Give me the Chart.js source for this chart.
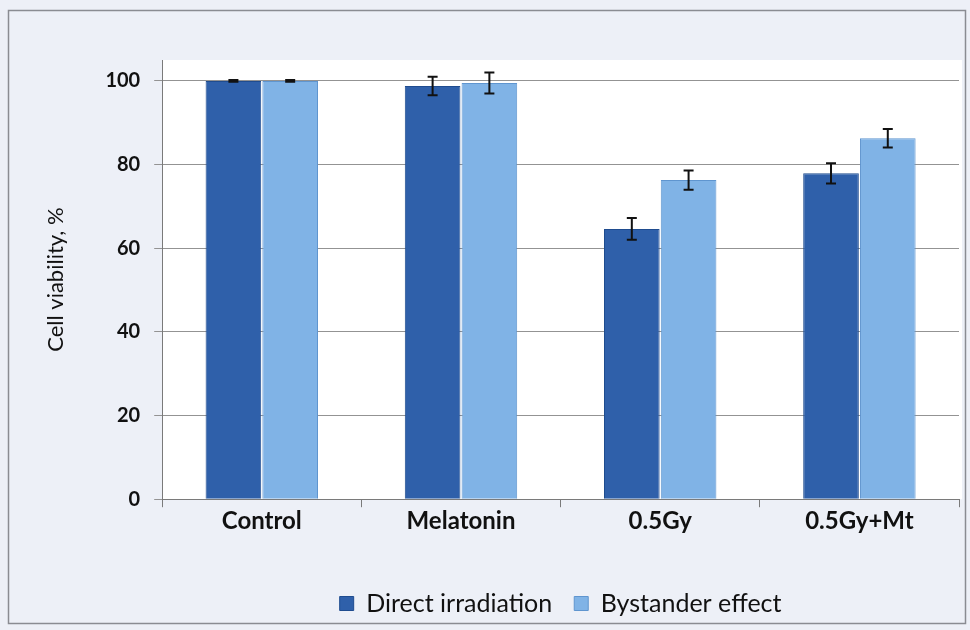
<!DOCTYPE html>
<html>
<head>
<meta charset="utf-8">
<script src="https://cdn.jsdelivr.net/npm/chart.js@4/dist/chart.umd.min.js"></script>
<style>
  html, body { margin: 0; padding: 0; background: #ffffff; }
</style>
</head>
<body>
<canvas id="chart" width="970" height="630"></canvas>
<script>
const categories = ["Control", "Melatonin", "0.5Gy", "0.5Gy+Mt"];
const direct_values = [100, 98.8, 64.6, 77.9];
const direct_errors = [0.2, 2.2, 2.6, 2.4];
const bystander_values = [100, 99.5, 76.3, 86.3];
const bystander_errors = [0.2, 2.5, 2.3, 2.2];
const y_ticks = [0, 20, 40, 60, 80, 100];

const error_list = [direct_errors, bystander_errors];

// page background + outer frame + white plot area
const backdrop = {
    id: 'backdrop',
    beforeDraw(chart) {
        const ctx = chart.ctx;
        const a = chart.chartArea;
        ctx.save();
        ctx.fillStyle = '#edf0f7';
        ctx.fillRect(0, 0, chart.width, chart.height);
        ctx.strokeStyle = '#8a8c92';
        ctx.lineWidth = 1.5;
        ctx.strokeRect(8.5, 10.5, 957, 613);
        ctx.fillStyle = '#ffffff';
        ctx.fillRect(a.left, a.top, a.right - a.left + 3, a.bottom - a.top);
        ctx.restore();
    }
};

const errorBars = {
    id: 'errorBars',
    afterDatasetsDraw(chart) {
        const ctx = chart.ctx;
        const y = chart.scales.y;
        ctx.save();
        ctx.strokeStyle = '#111111';
        ctx.lineWidth = 2;
        chart.data.datasets.forEach(function (ds, i) {
            const meta = chart.getDatasetMeta(i);
            meta.data.forEach(function (bar, j) {
                const v = ds.data[j];
                const e = error_list[i][j];
                const yt = y.getPixelForValue(v + e);
                const yb = y.getPixelForValue(v - e);
                const x = bar.x;
                ctx.beginPath();
                ctx.moveTo(x, yt); ctx.lineTo(x, yb);
                ctx.moveTo(x - 5, yt); ctx.lineTo(x + 5, yt);
                ctx.moveTo(x - 5, yb); ctx.lineTo(x + 5, yb);
                ctx.stroke();
            });
        });
        ctx.restore();
    }
};

new Chart(document.getElementById('chart').getContext('2d'), {
    type: 'bar',
    data: {
        labels: categories,
        datasets: [{
            label: 'Direct irradiation',
            data: direct_values,
            backgroundColor: '#2f60aa',
            borderColor: '#1f4c8f',
            borderWidth: 1
        }, {
            label: 'Bystander effect',
            data: bystander_values,
            backgroundColor: '#80b3e6',
            borderColor: '#5f95cf',
            borderWidth: 1
        }]
    },
    options: {
        responsive: false,
        animation: false,
        devicePixelRatio: 1,
        layout: {padding: {left: 43, right: 11, top: 60, bottom: 4}},
        datasets: {bar: {categoryPercentage: 0.57, barPercentage: 0.98}},
        plugins: {
            legend: {
                position: 'bottom',
                fullSize: false,
                labels: {
                    font: {family: 'Lato', size: 25},
                    color: '#111111',
                    boxWidth: 14,
                    boxHeight: 14,
                    padding: 22
                }
            },
            tooltip: {enabled: false}
        },
        scales: {
            x: {
                afterFit: function (axis) {
                    axis.height += 33;
                },
                grid: {
                    offset: true,
                    drawOnChartArea: false,
                    color: '#7a7a7a',
                    tickLength: 8
                },
                border: {color: '#7a7a7a', width: 1},
                ticks: {
                    font: {family: 'Lato', size: 24, weight: 'bold'},
                    color: '#111111',
                    padding: 0
                }
            },
            y: {
                min: 0,
                max: 105,
                afterBuildTicks: function (axis) {
                    axis.ticks = y_ticks.map(v => ({value: v}));
                },
                grid: {color: '#939393', tickLength: 8},
                border: {color: '#7a7a7a', width: 1},
                ticks: {
                    font: {family: 'Lato', size: 20, weight: 'bold'},
                    color: '#111111',
                    padding: 14
                },
                title: {
                    display: true,
                    text: 'Cell viability, %',
                    font: {family: 'Lato', size: 22},
                    color: '#111111',
                    padding: {top: 0, bottom: 22}
                }
            }
        }
    },
    plugins: [backdrop, errorBars]
});
</script>
</body>
</html>
